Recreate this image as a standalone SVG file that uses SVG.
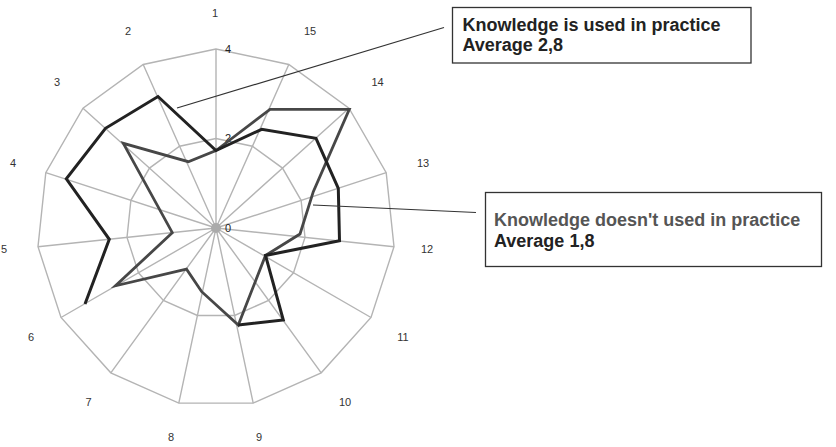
<svg xmlns="http://www.w3.org/2000/svg" width="836" height="447" viewBox="0 0 836 447">
<style>
.grid{fill:none;stroke:#b4b4b4;stroke-width:1.4}
.axl{font-family:"Liberation Sans",Arial,sans-serif;font-size:11px;fill:#333;text-anchor:middle}
.val{font-family:"Liberation Sans",Arial,sans-serif;font-size:11px;fill:#222}
.used{fill:none;stroke:#222;stroke-width:3;stroke-linejoin:miter}
.notused{fill:none;stroke:#474747;stroke-width:2.8;stroke-linejoin:miter}
.box{fill:#fff;stroke:#333;stroke-width:1.3}
.lead{fill:none;stroke:#333;stroke-width:1.2}
.bt{font-family:"Liberation Sans",Arial,sans-serif;font-size:18px;font-weight:bold;fill:#222}
</style>
<rect width="836" height="447" fill="#fff"/>
<g id="grid">
<polygon class="grid" points="216,49 143.2,64.5 83,108.2 45.8,172.7 38,246.7 61,317.5 110.8,372.8 178.8,403.1 253.2,403.1 321.2,372.8 371,317.5 394,246.7 386.2,172.7 349,108.2 288.8,64.5"/>
<polygon class="grid" points="216,138.5 179.6,146.2 149.5,168.1 130.9,200.3 127,237.4 138.5,272.8 163.4,300.4 197.4,315.5 234.6,315.5 268.6,300.4 293.5,272.8 305,237.4 301.1,200.3 282.5,168.1 252.4,146.2"/>
<path class="grid" d="M216,228L216,49M216,228L143.2,64.5M216,228L83,108.2M216,228L45.8,172.7M216,228L38,246.7M216,228L61,317.5M216,228L110.8,372.8M216,228L178.8,403.1M216,228L253.2,403.1M216,228L321.2,372.8M216,228L371,317.5M216,228L394,246.7M216,228L386.2,172.7M216,228L349,108.2M216,228L288.8,64.5"/>
<circle cx="216" cy="228" r="5" fill="#aaa"/>
<text class="val" x="225" y="53">4</text>
<text class="val" x="225" y="142">2</text>
<text class="val" x="225" y="232">0</text>
</g>
<g id="axis-labels">
<text class="axl" x="215" y="17">1</text>
<text class="axl" x="128" y="35">2</text>
<text class="axl" x="57" y="86">3</text>
<text class="axl" x="13" y="167">4</text>
<text class="axl" x="4" y="253">5</text>
<text class="axl" x="31" y="341">6</text>
<text class="axl" x="88.5" y="405.5">7</text>
<text class="axl" x="171" y="441">8</text>
<text class="axl" x="259" y="441">9</text>
<text class="axl" x="345" y="405.5">10</text>
<text class="axl" x="403" y="341">11</text>
<text class="axl" x="427" y="253">12</text>
<text class="axl" x="423" y="167">13</text>
<text class="axl" x="377.5" y="86">14</text>
<text class="axl" x="310" y="35">15</text>
</g>
<g id="series-not-used">
<polygon class="notused" points="216,150.5 270,109.3 349.3,109.3 313.3,191.7 300,234 265.5,255.5 238.3,325 201.7,291.7 186.5,269.2 115.5,285.8 172.3,232.7 123.3,143.3 188.3,161.7"/>
</g>
<g id="series-used">
<polyline class="used" points="238.3,325 283.3,320 265.5,255.5 339.5,240.7 338.3,188.3 316,138.3 261.7,129.3 216,150.5 158,96.5 105.5,128.3 66.3,178.8 109.3,239.3 85,304"/>
</g>
<g id="connectors">
<line class="lead" x1="177" y1="108" x2="444" y2="27.5"/>
<line class="lead" x1="313" y1="205" x2="476" y2="212.5"/>
</g>
<g id="label-used">
<rect class="box" x="452.5" y="7.5" width="298.5" height="55.5"/>
<text class="bt" x="462.5" y="31">Knowledge is used in practice</text>
<text class="bt" x="462.5" y="50.5">Average 2,8</text>
</g>
<g id="label-not-used">
<rect class="box" x="485.5" y="192.5" width="336" height="74"/>
<text class="bt" x="494" y="225.5" fill="#555" style="fill:#555">Knowledge doesn't used in practice</text>
<text class="bt" x="494" y="247">Average 1,8</text>
</g>
</svg>
